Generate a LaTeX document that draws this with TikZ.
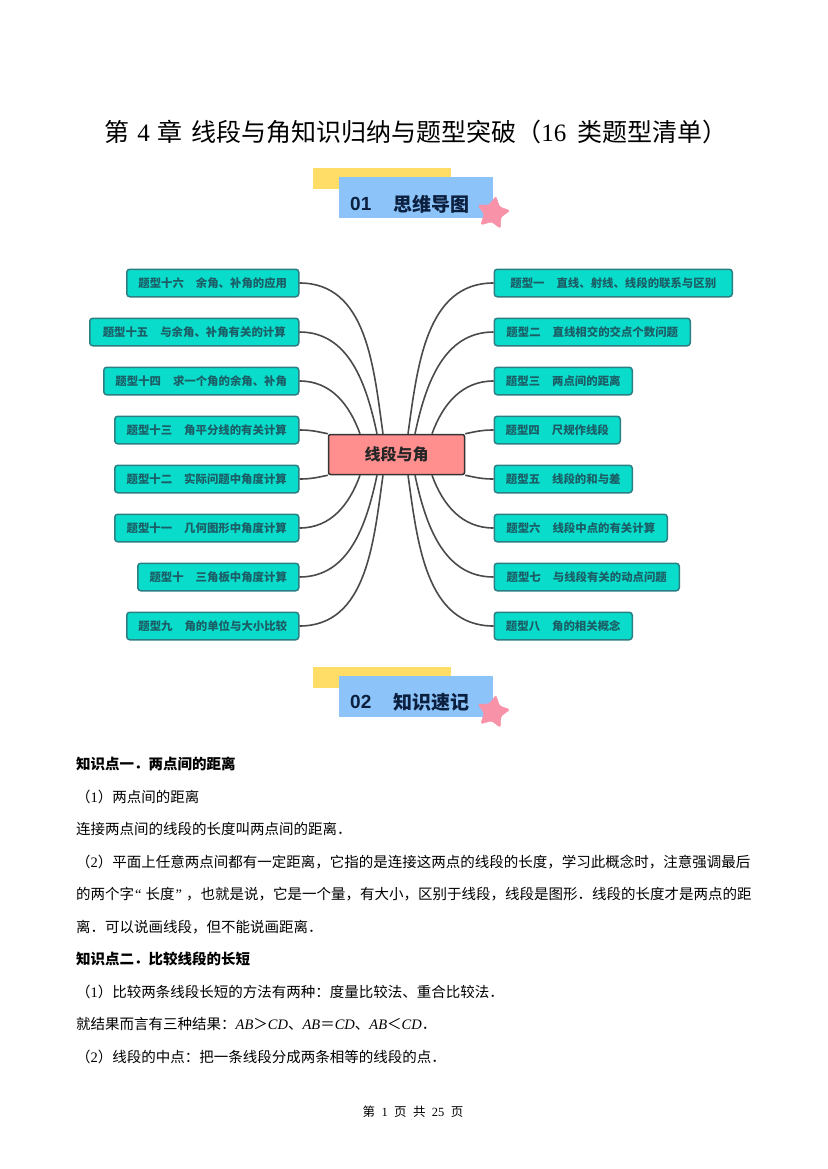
\documentclass[tikz,border=0pt]{standalone}
\usepackage{fontspec}
\setmainfont{Noto Sans CJK SC}
\newfontfamily\latin{Liberation Serif}
\newfontfamily\headfont{Liberation Sans}
\usetikzlibrary{shapes.geometric,calc}
\definecolor{boxfill}{HTML}{0ADCCB}
\definecolor{boxedge}{HTML}{2B7F83}
\definecolor{boxtext}{HTML}{1B5E66}
\definecolor{hubfill}{HTML}{FF8F8F}
\definecolor{curve}{HTML}{4A4A4A}
\definecolor{bannery}{HTML}{FFDD66}
\definecolor{bannerb}{HTML}{8CC4FA}
\definecolor{starpink}{HTML}{F892A8}
\definecolor{headtext}{HTML}{0B1F3F}
\tikzset{
  topic/.style={draw=boxedge,fill=boxfill,line width=1.5pt,rounded corners=3pt,minimum height=27.5pt,
    inner sep=0pt,text=boxtext,font=\fontsize{11.4}{11.4}\selectfont\bfseries},
  hubbox/.style={draw=black!80,fill=hubfill,line width=1.5pt,rounded corners=2pt,minimum width=136pt,
    minimum height=40pt,inner sep=0pt,font=\fontsize{16}{16}\selectfont\bfseries,text=black!85},
  link/.style={draw=curve,line width=1.6pt},
  heading/.style={anchor=west,inner sep=0pt,text=black,font=\fontsize{14.5}{14.5}\selectfont\bfseries},
  para/.style={anchor=west,inner sep=0pt,text=black,font=\fontsize{14.5}{14.5}\selectfont},
  yellowbar/.style={fill=bannery,draw=none,minimum width=138pt,minimum height=21pt,inner sep=0pt},
  bluebar/.style={fill=bannerb,draw=none,minimum width=154pt,minimum height=41pt,inner sep=0pt},
  pinkstar/.style={star,star points=5,star point ratio=1.9,fill=starpink,draw=starpink,rounded corners=1.5pt,
    minimum size=34pt,inner sep=0pt,rotate=-10},
  bartext/.style={anchor=west,inner sep=0pt,text=headtext,font=\fontsize{19}{19}\selectfont\bfseries}
}
\begin{document}
\begin{tikzpicture}[x=1pt,y=-1pt]
  \useasboundingbox (0,0) rectangle (827,1169);
  \fill[white] (0,0) rectangle (827,1169);
  \node[anchor=center,inner sep=0pt,font=\fontsize{25}{25}\selectfont,text=black] (title) at (416,132)
    {第\hspace{2pt} {\latin 4} \hspace{2pt}章\hspace{9pt}线段与角知识归纳与题型突破（{\latin 16}\hspace{11pt}类题型清单）};
  % banners
  \node[yellowbar] (yellow1) at (382,178.5) {};
  \node[bluebar] (blue1) at (416,197.5) {};
  \node[pinkstar] (star1) at (493,213) {};
  \node[bartext] (num1) at (350,204) {\headfont\bfseries 01};
  \node[bartext] (head1) at (393,204) {思维导图};
  \node[yellowbar] (yellow2) at (382,677.5) {};
  \node[bluebar] (blue2) at (416,696.5) {};
  \node[pinkstar] (star2) at (493,712) {};
  \node[bartext] (num2) at (350,702) {\headfont\bfseries 02};
  \node[bartext] (head2) at (393,702) {知识速记};
  % mind map
  \node[hubbox] (hub) at (396.5,454.5) {线段与角};
  \foreach \nm/\y/\w/\lab in {
    t1/283/238/{题型一\hspace{12pt}直线、射线、线段的联系与区别},
    t2/332/196/{题型二\hspace{12pt}直线相交的交点个数问题},
    t3/381/138/{题型三\hspace{12pt}两点间的距离},
    t4/430/126/{题型四\hspace{12pt}尺规作线段},
    t5/479/138/{题型五\hspace{12pt}线段的和与差},
    t6/528/173/{题型六\hspace{12pt}线段中点的有关计算},
    t7/577/185/{题型七\hspace{12pt}与线段有关的动点问题},
    t8/626/138/{题型八\hspace{12pt}角的相关概念}}
    \node[topic,anchor=west,minimum width=\w pt] (\nm) at (493.5,\y) {\lab};
  \foreach \nm/\y/\w/\lab in {
    t16/283/172/{题型十六\hspace{12pt}余角、补角的应用},
    t15/332/209/{题型十五\hspace{12pt}与余角、补角有关的计算},
    t14/381/195/{题型十四\hspace{12pt}求一个角的余角、补角},
    t13/430/184/{题型十三\hspace{12pt}角平分线的有关计算},
    t12/479/184/{题型十二\hspace{12pt}实际问题中角度计算},
    t11/528/184/{题型十一\hspace{12pt}几何图形中角度计算},
    t10/577/161/{题型十\hspace{12pt}三角板中角度计算},
    t9/626/172/{题型九\hspace{12pt}角的单位与大小比较}}
    \node[topic,anchor=east,minimum width=\w pt] (\nm) at (299.5,\y) {\lab};
  \foreach \nm/\off in {a/-13.5,b/-19.5,c/-36.5,d/11.5,e/18.5,f/35.5}{
    \coordinate (top\nm) at ($(hub.north)+(\off,0)$);
    \coordinate (bot\nm) at ($(hub.south)+(\off,0)$);
  }
  \draw[link] (t16.east) to[out=0,in=98] (topa);
  \draw[link] (t15.east) to[out=0,in=102] (topb);
  \draw[link] (t14.east) to[out=0,in=110] (topc);
  \draw[link] (t13.east) to[out=0,in=168] (hub.north west);
  \draw[link] (t12.east) to[out=0,in=192] (hub.south west);
  \draw[link] (t11.east) to[out=0,in=-110] (botc);
  \draw[link] (t10.east) to[out=0,in=-102] (botb);
  \draw[link] (t9.east) to[out=0,in=-98] (bota);
  \draw[link] (t1.west) to[out=180,in=82] (topd);
  \draw[link] (t2.west) to[out=180,in=78] (tope);
  \draw[link] (t3.west) to[out=180,in=70] (topf);
  \draw[link] (t4.west) to[out=180,in=12] (hub.north east);
  \draw[link] (t5.west) to[out=180,in=-12] (hub.south east);
  \draw[link] (t6.west) to[out=180,in=-70] (botf);
  \draw[link] (t7.west) to[out=180,in=-78] (bote);
  \draw[link] (t8.west) to[out=180,in=-82] (botd);
  % text lines
  \node[heading] (line1) at (76,764) {知识点一．两点间的距离};
  \node[para] (line2) at (76,797) {（{\latin 1}）两点间的距离};
  \node[para] (line3) at (76,829) {连接两点间的线段的长度叫两点间的距离．};
  \node[para] (line4) at (76,862) {（{\latin 2}）平面上任意两点间都有一定距离，它指的是连接这两点的线段的长度，学习此概念时，注意强调最后};
  \node[para] (line5) at (76,894) {的两个字\hspace{1pt}{\latin “}\hspace{4pt}长度\hspace{1pt}{\latin ”}\hspace{4pt}，也就是说，它是一个量，有大小，区别于线段，线段是图形．线段的长度才是两点的距};
  \node[para] (line6) at (76,927) {离．可以说画线段，但不能说画距离．};
  \node[heading] (line7) at (76,959) {知识点二．比较线段的长短};
  \node[para] (line8) at (76,992) {（{\latin 1}）比较两条线段长短的方法有两种：度量比较法、重合比较法．};
  \node[para] (line9) at (76,1024) {就结果而言有三种结果：{\latin\itshape AB}＞{\latin\itshape CD}、{\latin\itshape AB}＝{\latin\itshape CD}、{\latin\itshape AB}＜{\latin\itshape CD}．};
  \node[para] (line10) at (76,1057) {（{\latin 2}）线段的中点：把一条线段分成两条相等的线段的点．};
  \node[anchor=center,inner sep=0pt,text=black,font=\fontsize{12.5}{12.5}\selectfont] (foot) at (413,1112)
    {第\hspace{6.4pt}{\latin 1}\hspace{6.4pt}页\hspace{6.4pt}共\hspace{6.4pt}{\latin 25}\hspace{6.4pt}页};
\end{tikzpicture}
\end{document}
